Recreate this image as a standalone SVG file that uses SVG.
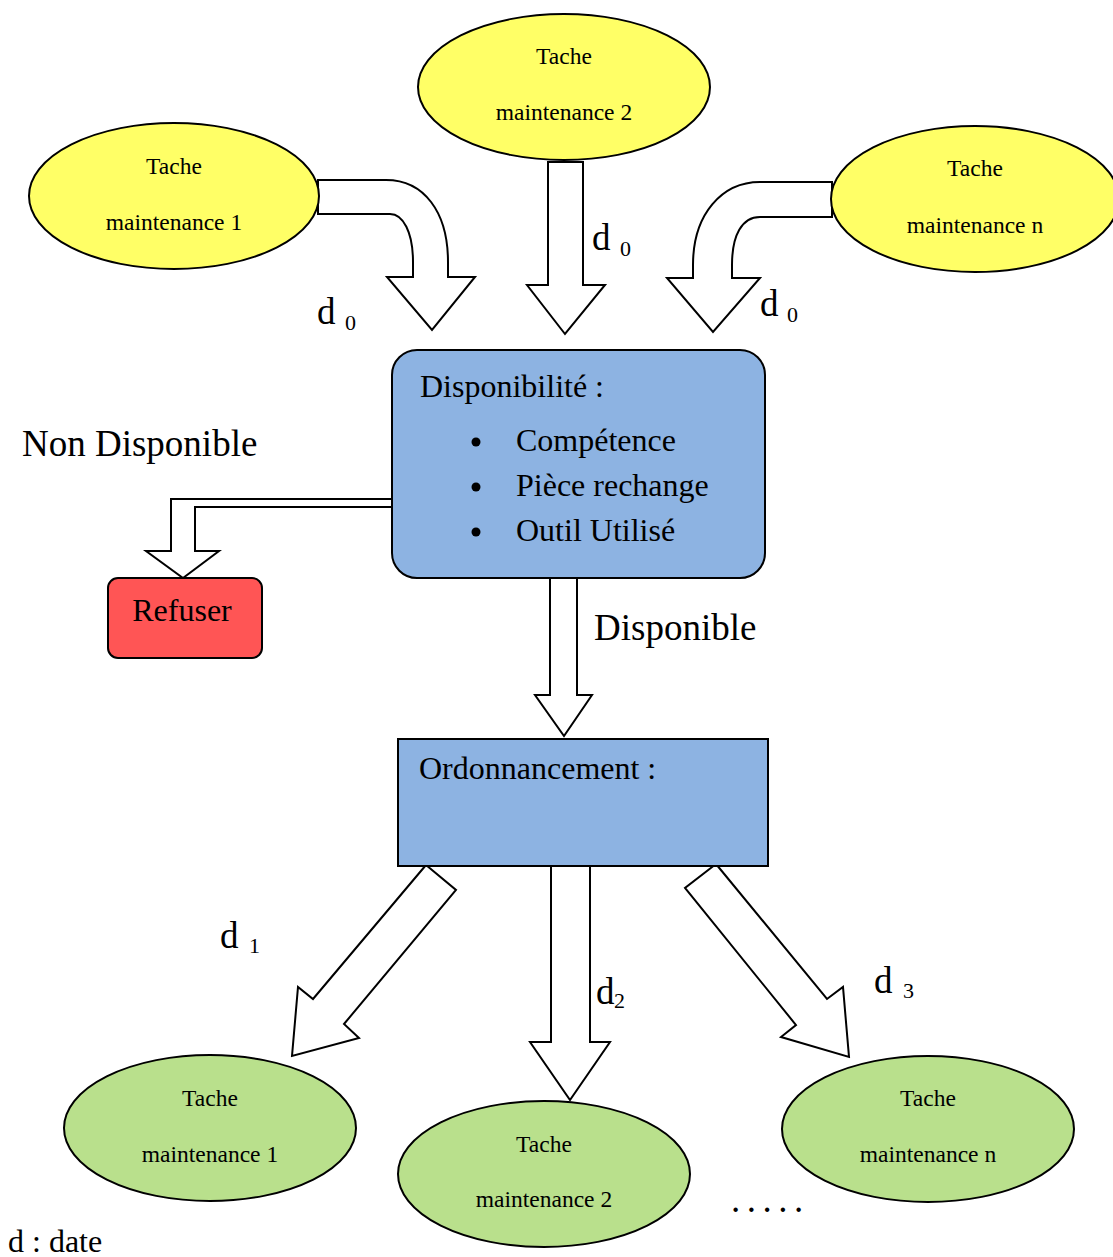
<svg xmlns="http://www.w3.org/2000/svg" width="1113" height="1257" viewBox="0 0 1113 1257">
<style>
  .txt { font-family: "Liberation Serif", "Times New Roman", serif; fill: #000; }
  .task { font-size: 23.5px; text-anchor: middle; }
  .in { fill: #ffff66; stroke: #000; stroke-width: 2; }
  .out { fill: #b9e08c; stroke: #000; stroke-width: 2; }
  .box { fill: #8db3e2; stroke: #000; stroke-width: 2; }
  .arrow { fill: #fff; stroke: #000; stroke-width: 2; stroke-linejoin: miter; }
  .big { font-size: 37px; }
  .mid { font-size: 32px; }
  .sub { font-size: 22px; }
</style>
<rect width="1113" height="1257" fill="#fff"/>

<!-- connectors: block arrows -->
<g id="connectors">
  <path class="arrow" d="M318,180 H386 C424,180 448,212 448,262 V277 H475 L432,330 L387,277 H413 V262 C413,232 403,214 390,214 H318 Z"/>
  <path class="arrow" d="M548,162 H583 V285 H605 L565,334 L527,285 H548 Z"/>
  <path class="arrow" d="M832,182 H760 C722,182 693,214 693,265 V278 H667 L713,332 L760,278 H732 V265 C732,235 742,217 760,217 H832 Z"/>
  <path class="arrow" d="M393,499 H171 V551 H146 L183,578 L219,551 H195 V507 H393 Z"/>
  <path class="arrow" d="M550,578 H577 V695 H592 L564,736 L535,695 H550 Z"/>
  <path class="arrow" d="M426,865 L456,890 L344,1024 L359,1038 L292,1056 L298,987 L313,999 Z"/>
  <path class="arrow" d="M551,866 H590 V1042 H610 L570,1100 L530,1042 H551 Z"/>
  <path class="arrow" d="M716,864 L685,888 L796,1025 L781,1037 L849,1057 L843,987 L827,999 Z"/>
</g>

<!-- incoming maintenance tasks -->
<g id="task-in-1">
  <ellipse class="in" cx="174" cy="196" rx="145" ry="73"/>
  <text class="txt task" x="174" y="174">Tache</text>
  <text class="txt task" x="174" y="230">maintenance 1</text>
</g>
<g id="task-in-2">
  <ellipse class="in" cx="564" cy="87" rx="146" ry="73"/>
  <text class="txt task" x="564" y="64">Tache</text>
  <text class="txt task" x="564" y="120">maintenance 2</text>
</g>
<g id="task-in-n">
  <ellipse class="in" cx="975" cy="199" rx="144" ry="73"/>
  <text class="txt task" x="975" y="176">Tache</text>
  <text class="txt task" x="975" y="233">maintenance n</text>
</g>

<!-- date labels on incoming arrows -->
<g id="labels-in">
  <text class="txt big" x="317" y="324">d</text><text class="txt sub" x="345" y="330">0</text>
  <text class="txt big" x="592" y="250">d</text><text class="txt sub" x="620" y="256">0</text>
  <text class="txt big" x="760" y="316">d</text><text class="txt sub" x="787" y="322">0</text>
</g>

<!-- availability check -->
<g id="disponibilite">
  <rect class="box" x="392" y="350" width="373" height="228" rx="25" ry="25"/>
  <text class="txt mid" x="420" y="397">Disponibilité :</text>
  <circle cx="476" cy="442" r="4.5" fill="#000"/>
  <circle cx="476" cy="487" r="4.5" fill="#000"/>
  <circle cx="476" cy="532" r="4.5" fill="#000"/>
  <text class="txt mid" x="516" y="451">Compétence</text>
  <text class="txt mid" x="516" y="496">Pièce rechange</text>
  <text class="txt mid" x="516" y="541">Outil Utilisé</text>
</g>

<text class="txt big" x="22" y="456">Non Disponible</text>

<g id="refuser">
  <rect x="108" y="578" width="154" height="80" rx="10" ry="10" fill="#ff5555" stroke="#000" stroke-width="2"/>
  <text class="txt mid" x="182" y="621" text-anchor="middle">Refuser</text>
</g>

<text class="txt big" x="594" y="640">Disponible</text>

<!-- scheduling -->
<g id="ordonnancement">
  <rect class="box" x="398" y="739" width="370" height="127"/>
  <text class="txt mid" x="419" y="779">Ordonnancement :</text>
</g>

<!-- date labels on outgoing arrows -->
<g id="labels-out">
  <text class="txt big" x="220" y="948">d</text><text class="txt sub" x="249" y="953">1</text>
  <text class="txt big" x="596" y="1004">d</text><text class="txt sub" x="614" y="1008">2</text>
  <text class="txt big" x="874" y="993">d</text><text class="txt sub" x="903" y="998">3</text>
</g>

<!-- scheduled maintenance tasks -->
<g id="task-out-1">
  <ellipse class="out" cx="210" cy="1128" rx="146" ry="73"/>
  <text class="txt task" x="210" y="1106">Tache</text>
  <text class="txt task" x="210" y="1162">maintenance 1</text>
</g>
<g id="task-out-2">
  <ellipse class="out" cx="544" cy="1174" rx="146" ry="73"/>
  <text class="txt task" x="544" y="1152">Tache</text>
  <text class="txt task" x="544" y="1207">maintenance 2</text>
</g>
<g id="task-out-n">
  <ellipse class="out" cx="928" cy="1129" rx="146" ry="73"/>
  <text class="txt task" x="928" y="1106">Tache</text>
  <text class="txt task" x="928" y="1162">maintenance n</text>
</g>

<text class="txt big" x="731" y="1212" letter-spacing="6.5">.....</text>
<text class="txt mid" x="8" y="1252">d : date</text>
</svg>
